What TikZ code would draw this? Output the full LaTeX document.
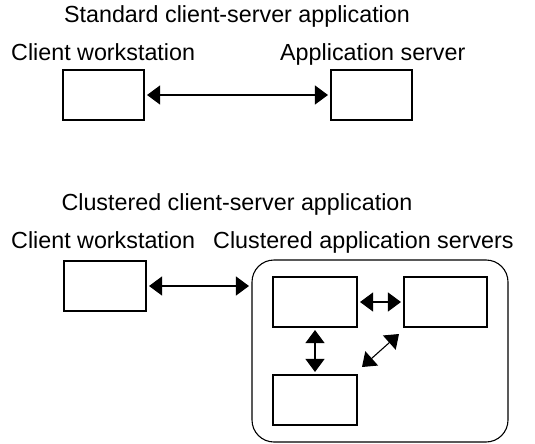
\documentclass[tikz,border=0pt]{standalone}
\usepackage{fontspec}
\setmainfont{Liberation Sans}
\usetikzlibrary{arrows.meta}
\begin{document}
\begin{tikzpicture}[x=1pt,y=-1pt,
  lbl/.style={anchor=base west,inner sep=0pt,font=\fontsize{23.3}{27}\selectfont},
  ttl/.style={anchor=base,inner sep=0pt,font=\fontsize{23.3}{27}\selectfont},
  box/.style={draw,line width=1.1pt,inner sep=0pt},
  link/.style={line width=1.1pt,{Triangle[length=13pt,width=19pt]}-{Triangle[length=13pt,width=19pt]},shorten <=2.5pt,shorten >=2.5pt}]
\useasboundingbox (0,0) rectangle (535,444);
% section 1
\node[ttl] (t1) at (237,23) {Standard client-server application};
\node[lbl] (l1) at (11,60) {Client workstation};
\node[lbl] (l2) at (280,60) {Application server};
\node[box,minimum width=81pt,minimum height=50pt] (c1) at (103.5,95) {};
\node[box,minimum width=81pt,minimum height=50pt] (s1) at (371.5,95) {};
\draw[link] (c1.east) -- (s1.west);
% section 2
\node[ttl] (t2) at (237,210) {Clustered client-server application};
\node[lbl] (l3) at (11,248) {Client workstation};
\node[lbl] (l4) at (213,248) {Clustered application servers};
\node[box,minimum width=82pt,minimum height=50pt] (c2) at (105,286) {};
\node[box,rounded corners=22pt,minimum width=256pt,minimum height=182pt] (cl) at (380,351) {};
\draw[link] (c2.east) -- (c2.east -| cl.west);
\node[box,minimum width=84pt,minimum height=50pt] (a) at (315,302) {};
\node[box,minimum width=83pt,minimum height=50pt] (b) at (445.5,302) {};
\node[box,minimum width=84pt,minimum height=50pt] (c) at (315,400) {};
\draw[link] (a.east) -- (b.west);
\draw[link] (a.south) -- (c.north);
\coordinate (d1) at (362,367);
\coordinate (d2) at (399,334);
\draw[link,shorten <=0pt,shorten >=0pt] (d1) -- (d2);
\end{tikzpicture}
\end{document}
